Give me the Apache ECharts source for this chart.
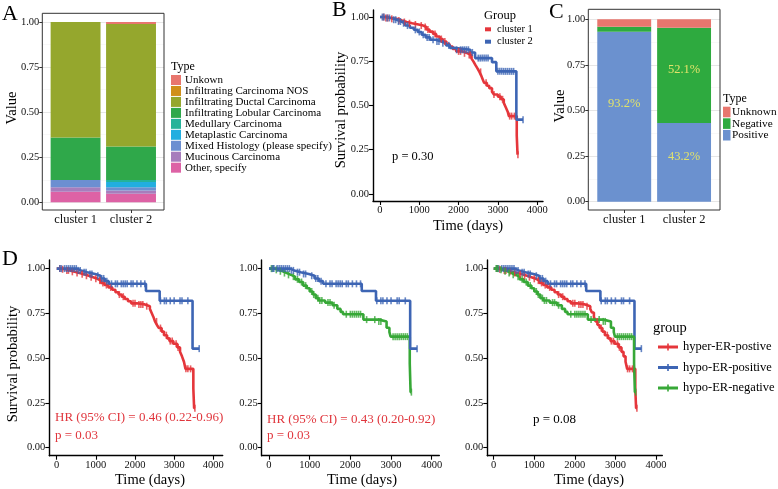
<!DOCTYPE html>
<html><head><meta charset="utf-8">
<script src="https://cdn.jsdelivr.net/npm/echarts@6/dist/echarts.min.js"></script>
<style>html,body{margin:0;padding:0;background:#fff}#c{width:778px;height:489px}</style>
</head><body><div id="c"></div>
<script>
const FONT = "'Liberation Serif','Times New Roman',serif";

// ---------- Panel A data ----------
const clusters = ['cluster 1', 'cluster 2'];
const typeNamesA = ['Unkown', 'Infiltrating Carcinoma NOS', 'Infiltrating Ductal Carcinoma', 'Infiltrating Lobular Carcinoma', 'Medullary Carcinoma', 'Metaplastic Carcinoma', 'Mixed Histology (please specify)', 'Mucinous Carcinoma', 'Other, specify'];
const unknownA     = [0.000, 0.011];
const nosA         = [0.000, 0.000];
const ductalA      = [0.640, 0.679];
const lobularA     = [0.236, 0.187];
const medullaryA   = [0.000, 0.010];
const metaplasticA = [0.000, 0.030];
const mixedA       = [0.041, 0.018];
const mucinousA    = [0.024, 0.018];
const otherA       = [0.059, 0.047];
const colorsA = ['#e8766e', '#d08f1a', '#95a72d', '#2fa84a', '#25b39a', '#22aee0', '#6c8fd1', '#a77dbc', '#dd62a5'];

// ---------- Panel C data ----------
const typeNamesC = ['Unknown', 'Negative', 'Positive'];
const positiveC = [0.932, 0.432];
const negativeC = [0.027, 0.521];
const unknownC  = [0.041, 0.047];
const positiveLabelsC = ['93.2%', '43.2%'];
const negativeLabelsC = ['', '52.1%'];
const colorsC = ['#e8766e', '#2eaa3f', '#6b91cf'];

// ---------- Axis ticks ----------
const propTicks = [0, 0.25, 0.5, 0.75, 1];
const timeTicks = [0, 1000, 2000, 3000, 4000];

// ---------- Panel B survival (cluster 1 / cluster 2) ----------
const cluster1Curve = [[0,1],[120,0.995],[260,0.99],[420,0.98],[560,0.972],[680,0.965],[820,0.958],[980,0.952],[1100,0.944],[1180,0.93],[1260,0.918],[1350,0.905],[1430,0.89],[1520,0.876],[1600,0.862],[1690,0.848],[1770,0.834],[1850,0.82],[1940,0.806],[2100,0.795],[2230,0.785],[2330,0.765],[2380,0.748],[2430,0.728],[2480,0.71],[2530,0.69],[2570,0.672],[2610,0.65],[2650,0.628],[2720,0.612],[2780,0.598],[2850,0.578],[2900,0.562],[3000,0.55],[3080,0.535],[3150,0.515],[3200,0.49],[3250,0.465],[3280,0.44],[3480,0.33],[3500,0.222],[3510,0.222]];
const cluster1Censor = [90,150,200,300,480,620,750,900,1050,1150,1220,1400,1560,1650,2000,2050,2150,2270,2300,2560,2700,2900,3050,3120,3300,3350,3420,3510];
const cluster2Curve = [[0,1],[150,0.995],[300,0.985],[420,0.975],[540,0.965],[640,0.952],[760,0.94],[860,0.928],[960,0.916],[1060,0.9],[1160,0.885],[1280,0.872],[1420,0.862],[1560,0.852],[1680,0.84],[1780,0.826],[1880,0.815],[2300,0.8],[2420,0.768],[2850,0.745],[2960,0.693],[3470,0.42],[3640,0.42]];
const cluster2Censor = [60,100,180,240,350,400,470,520,600,700,900,1000,1100,1200,1250,1350,1450,1500,1600,1750,1950,2050,2100,2150,2200,2250,2350,2500,2550,2600,2650,2700,2750,3000,3050,3100,3150,3200,3250,3300,3350,3400,3640];

// ---------- Panel D survival (groups) ----------
const hyperPosCurve = [[0,1],[100,0.996],[220,0.99],[340,0.982],[460,0.975],[580,0.968],[700,0.96],[820,0.952],[930,0.943],[1040,0.933],[1130,0.92],[1220,0.908],[1320,0.895],[1420,0.882],[1500,0.868],[1580,0.855],[1660,0.843],[1740,0.83],[1820,0.818],[1900,0.806],[2050,0.8],[2250,0.79],[2380,0.775],[2420,0.755],[2470,0.73],[2510,0.705],[2560,0.685],[2610,0.668],[2680,0.648],[2740,0.628],[2820,0.61],[2880,0.595],[2980,0.58],[3080,0.56],[3150,0.535],[3200,0.51],[3250,0.48],[3290,0.44],[3490,0.33],[3510,0.22],[3530,0.22]];
const hyperPosCensor = [80,150,260,300,400,520,650,760,880,1000,1100,1180,1270,1380,1600,1700,1950,2000,2100,2150,2200,2300,2550,2650,2800,2900,2950,3050,3100,3300,3350,3420,3530];
const hypoPosCurve = [[0,1],[520,0.99],[620,0.98],[780,0.97],[980,0.96],[1120,0.945],[1230,0.93],[1330,0.915],[2280,0.875],[2630,0.82],[3470,0.553],[3640,0.553]];
const hypoPosCensor = [80,120,200,250,300,350,400,450,500,550,600,700,750,850,900,1050,1150,1200,1280,1400,1500,1550,1650,1700,1750,1800,1900,1950,2050,2150,2250,2650,2750,2800,2900,3000,3150,3200,3350,3640];
const hypoNegCurve = [[0,1],[120,0.993],[230,0.985],[340,0.975],[440,0.965],[540,0.955],[640,0.94],[740,0.925],[840,0.905],[930,0.89],[1000,0.872],[1080,0.855],[1150,0.835],[1220,0.822],[1380,0.81],[1560,0.795],[1680,0.775],[1760,0.758],[1820,0.745],[2320,0.715],[2700,0.705],[2890,0.67],[2960,0.645],[2990,0.62],[3460,0.47],[3480,0.31],[3500,0.31]];
const hypoNegCensor = [60,100,180,280,380,480,600,700,800,900,1050,1100,1200,1250,1300,1450,1500,1600,1900,2000,2050,2100,2150,2200,2250,2400,2600,2700,2750,3050,3100,3150,3200,3250,3300,3350,3400,3500];
const groupNames = ['hyper-ER-postive', 'hypo-ER-positive', 'hypo-ER-negative'];

const RED = '#e5363b', BLUE = '#3d65b4', GREEN = '#37a837';

// ---------- helpers ----------
function stepAt(curve, t) { let s = curve[0][1]; for (const p of curve) { if (p[0] <= t) s = p[1]; else break; } return s; }
function km(g, curve, censor, color, name) {
  return [
    { type: 'line', name, xAxisIndex: g, yAxisIndex: g, data: curve, step: 'end', symbol: 'none', lineStyle: { color, width: 2.6 }, itemStyle: { color }, z: 3, silent: true },
    { type: 'scatter', name, xAxisIndex: g, yAxisIndex: g, data: censor.map(t => [t, stepAt(curve, t)]), symbol: 'rect', symbolSize: [1.6, 7], itemStyle: { color }, z: 4, silent: true }
  ];
}
function txt(x, y, s, size, o) {
  o = o || {};
  return { type: 'text', x, y, rotation: o.rot || 0, z: 20, silent: true,
    style: { text: s, font: size + 'px ' + FONT, fill: o.color || '#000', textAlign: o.align || 'left', textVerticalAlign: 'middle' } };
}
function rect(x, y, w, h, fill, stroke) {
  return { type: 'rect', z: 15, silent: true, shape: { x, y, width: w, height: h }, style: stroke ? { fill: 'none', stroke, lineWidth: 1 } : { fill } };
}
function lineG(x1, y1, x2, y2, stroke, w) {
  return { type: 'line', z: 15, silent: true, shape: { x1, y1, x2, y2 }, style: { stroke, lineWidth: w } };
}

// ---------- axes ----------
function kmX(g, min, max) {
  return { gridIndex: g, type: 'value', min, max,
    axisLine: { show: true, onZero: false, lineStyle: { color: '#000', width: 1.4 } },
    axisTick: { show: true, customValues: timeTicks, length: 4, lineStyle: { color: '#000', width: 1.1 } },
    axisLabel: { customValues: timeTicks, formatter: v => String(v), fontFamily: FONT, fontSize: 10.5, color: '#111', margin: 4 },
    splitLine: { show: false } };
}
function kmY(g, min, max) {
  return { gridIndex: g, type: 'value', min, max,
    axisLine: { show: true, onZero: false, lineStyle: { color: '#000', width: 1.4 } },
    axisTick: { show: true, customValues: propTicks, length: 4, lineStyle: { color: '#000', width: 1.1 } },
    axisLabel: { customValues: propTicks, formatter: v => v.toFixed(2), fontFamily: FONT, fontSize: 10.5, color: '#111', margin: 4 },
    splitLine: { show: false } };
}
function bgX(g) { return { gridIndex: g, type: 'value', min: 0, max: 1, show: false, splitLine: { show: false } }; }
function bgY(g) {
  return { gridIndex: g, type: 'value', min: 0, max: 1, interval: 0.25,
    axisLine: { show: false, onZero: false },
    axisTick: { show: true, length: 3, lineStyle: { color: '#333' } },
    axisLabel: { formatter: v => v.toFixed(2), fontFamily: FONT, fontSize: 10.5, color: '#111', margin: 3 },
    splitLine: { show: true, lineStyle: { color: '#e6e6e6', width: 1 } },
    minorTick: { show: false, splitNumber: 2 },
    minorSplitLine: { show: true, lineStyle: { color: '#f3f3f3', width: 0.6 } } };
}
function barX(g, offset) {
  return { gridIndex: g, type: 'category', data: clusters, offset,
    axisLine: { show: false, onZero: false },
    axisTick: { show: true, alignWithLabel: true, interval: 0, length: 3, lineStyle: { color: '#333' } },
    axisLabel: { interval: 0, hideOverlap: false, fontFamily: FONT, fontSize: 12.5, color: '#111', margin: 3 },
    splitLine: { show: false } };
}
function barY(g) { return { gridIndex: g, type: 'value', min: 0, max: 1, show: false, splitLine: { show: false } }; }

// ---------- series ----------
const series = [];
const stackA = [otherA, mucinousA, mixedA, metaplasticA, medullaryA, lobularA, ductalA, nosA, unknownA];
const stackAIdx = [8, 7, 6, 5, 4, 3, 2, 1, 0];
stackA.forEach((arr, k) => {
  const ti = stackAIdx[k];
  series.push({ type: 'bar', name: typeNamesA[ti], xAxisIndex: 6, yAxisIndex: 6, stack: 'A', barWidth: 49.9,
    data: arr.slice(), itemStyle: { color: colorsA[ti] }, silent: true, z: 2 });
});
const stackC = [[positiveC, 2, positiveLabelsC, [-13, -6]], [negativeC, 1, negativeLabelsC, [0, -6]], [unknownC, 0, null, null]];
stackC.forEach(([arr, ti, labs, offs]) => {
  series.push({ type: 'bar', name: typeNamesC[ti], xAxisIndex: 7, yAxisIndex: 7, stack: 'C', barWidth: 53.9,
    data: arr.map((v, i) => ({ value: v,
      label: labs && labs[i] ? { show: true, position: 'inside', formatter: labs[i], offset: [0, offs[i]], color: '#e2e36a', fontFamily: FONT, fontSize: 12.5 } : { show: false } })),
    itemStyle: { color: colorsC[ti] }, silent: true, z: 2 });
});
series.push(...km(1, cluster1Curve, cluster1Censor, RED, 'cluster 1'));
series.push(...km(1, cluster2Curve, cluster2Censor, BLUE, 'cluster 2'));
series.push(...km(3, hyperPosCurve, hyperPosCensor, RED, groupNames[0]));
series.push(...km(3, hypoPosCurve, hypoPosCensor, BLUE, groupNames[1]));
series.push(...km(4, hypoNegCurve, hypoNegCensor, GREEN, groupNames[2]));
series.push(...km(4, hypoPosCurve, hypoPosCensor, BLUE, groupNames[1]));
series.push(...km(5, hyperPosCurve, hyperPosCensor, RED, groupNames[0]));
series.push(...km(5, hypoPosCurve, hypoPosCensor, BLUE, groupNames[1]));
series.push(...km(5, hypoNegCurve, hypoNegCensor, GREEN, groupNames[2]));

// ---------- graphics: titles, legends, annotations ----------
const graphic = [];
graphic.push(rect(42.3, 13.3, 121.7, 196.7, null, '#333'));
graphic.push(rect(588.3, 9.3, 131.7, 200.7, null, '#333'));
graphic.push(txt(2, 14, 'A', 22), txt(332, 10, 'B', 22), txt(549, 12, 'C', 22), txt(2, 259, 'D', 22));
graphic.push(txt(12, 108, 'Value', 14.5, { rot: Math.PI / 2, align: 'center' }));
graphic.push(txt(560, 106, 'Value', 14.5, { rot: Math.PI / 2, align: 'center' }));
graphic.push(txt(341, 110, 'Survival probability', 14.5, { rot: Math.PI / 2, align: 'center' }));
graphic.push(txt(468, 226, 'Time (days)', 14.5, { align: 'center' }));
graphic.push(txt(13, 364, 'Survival probability', 14.5, { rot: Math.PI / 2, align: 'center' }));
graphic.push(txt(150, 480, 'Time (days)', 14.5, { align: 'center' }));
graphic.push(txt(362, 480, 'Time (days)', 14.5, { align: 'center' }));
graphic.push(txt(589, 480, 'Time (days)', 14.5, { align: 'center' }));
graphic.push(txt(171, 67, 'Type', 12));
typeNamesA.forEach((n, i) => {
  const cy = 80 + i * 10.96;
  graphic.push(rect(171, cy - 5, 10, 10, colorsA[i]));
  graphic.push(txt(185, cy, n, 11));
});
graphic.push(txt(723, 99, 'Type', 12));
typeNamesC.forEach((n, i) => {
  const cy = 112 + i * 11.6;
  graphic.push(rect(723, cy - 5.3, 7.5, 10.6, colorsC[i]));
  graphic.push(txt(732, cy, n, 11.3));
});
graphic.push(txt(484, 16, 'Group', 12.5));
[['cluster 1', RED], ['cluster 2', BLUE]].forEach(([n, c], i) => {
  const cy = 29.3 + i * 12.4;
  graphic.push(rect(485, cy - 2, 6, 4, c));
  graphic.push(txt(497, cy, n, 10.5));
});
graphic.push(txt(653, 328, 'group', 14.5));
[RED, BLUE, GREEN].forEach((c, i) => {
  const cy = 347 + i * 20.5;
  graphic.push(lineG(658, cy, 678, cy, c, 3));
  graphic.push(lineG(668, cy - 3.5, 668, cy + 3.5, c, 1.6));
  graphic.push(txt(683, cy, groupNames[i], 12.5));
});
graphic.push(txt(392, 157, 'p = 0.30', 12.5));
graphic.push(txt(55, 418, 'HR (95% CI) = 0.46 (0.22-0.96)', 13, { color: '#e0363d' }));
graphic.push(txt(55, 435.5, 'p = 0.03', 13, { color: '#e0363d' }));
graphic.push(txt(267, 420, 'HR (95% CI) = 0.43 (0.20-0.92)', 13, { color: '#e0363d' }));
graphic.push(txt(267, 435.5, 'p = 0.03', 13, { color: '#e0363d' }));
graphic.push(txt(533, 420, 'p = 0.08', 13));

const option = {
  animation: false,
  backgroundColor: '#fff',
  textStyle: { fontFamily: FONT },
  grid: [
    { left: 42.3, top: 22, width: 121.7, height: 180.3 },
    { left: 373, top: 10, width: 170, height: 191 },
    { left: 588.3, top: 19.3, width: 131.7, height: 182.4 },
    { left: 49.3, top: 260, width: 173.4, height: 195.7 },
    { left: 261.7, top: 260, width: 177.6, height: 195.7 },
    { left: 487.3, top: 260, width: 175, height: 195.7 },
    { left: 47.85, top: 22, width: 110.9, height: 180.3 },
    { left: 594.3, top: 19.3, width: 119.7, height: 182.4 }
  ],
  xAxis: [bgX(0), kmX(1, -178, 4148), bgX(2), kmX(3, -189, 4240), kmX(4, -179, 4186), kmX(5, -158, 4156), barX(6, 7.7), barX(7, 8.3)],
  yAxis: [bgY(0), kmY(1, -0.04, 1.04), bgY(2), kmY(3, -0.045, 1.048), kmY(4, -0.045, 1.048), kmY(5, -0.045, 1.048), barY(6), barY(7)],
  series,
  graphic
};
const chart = echarts.init(document.getElementById('c'), null, { renderer: 'canvas' });
chart.setOption(option);
</script></body></html>
